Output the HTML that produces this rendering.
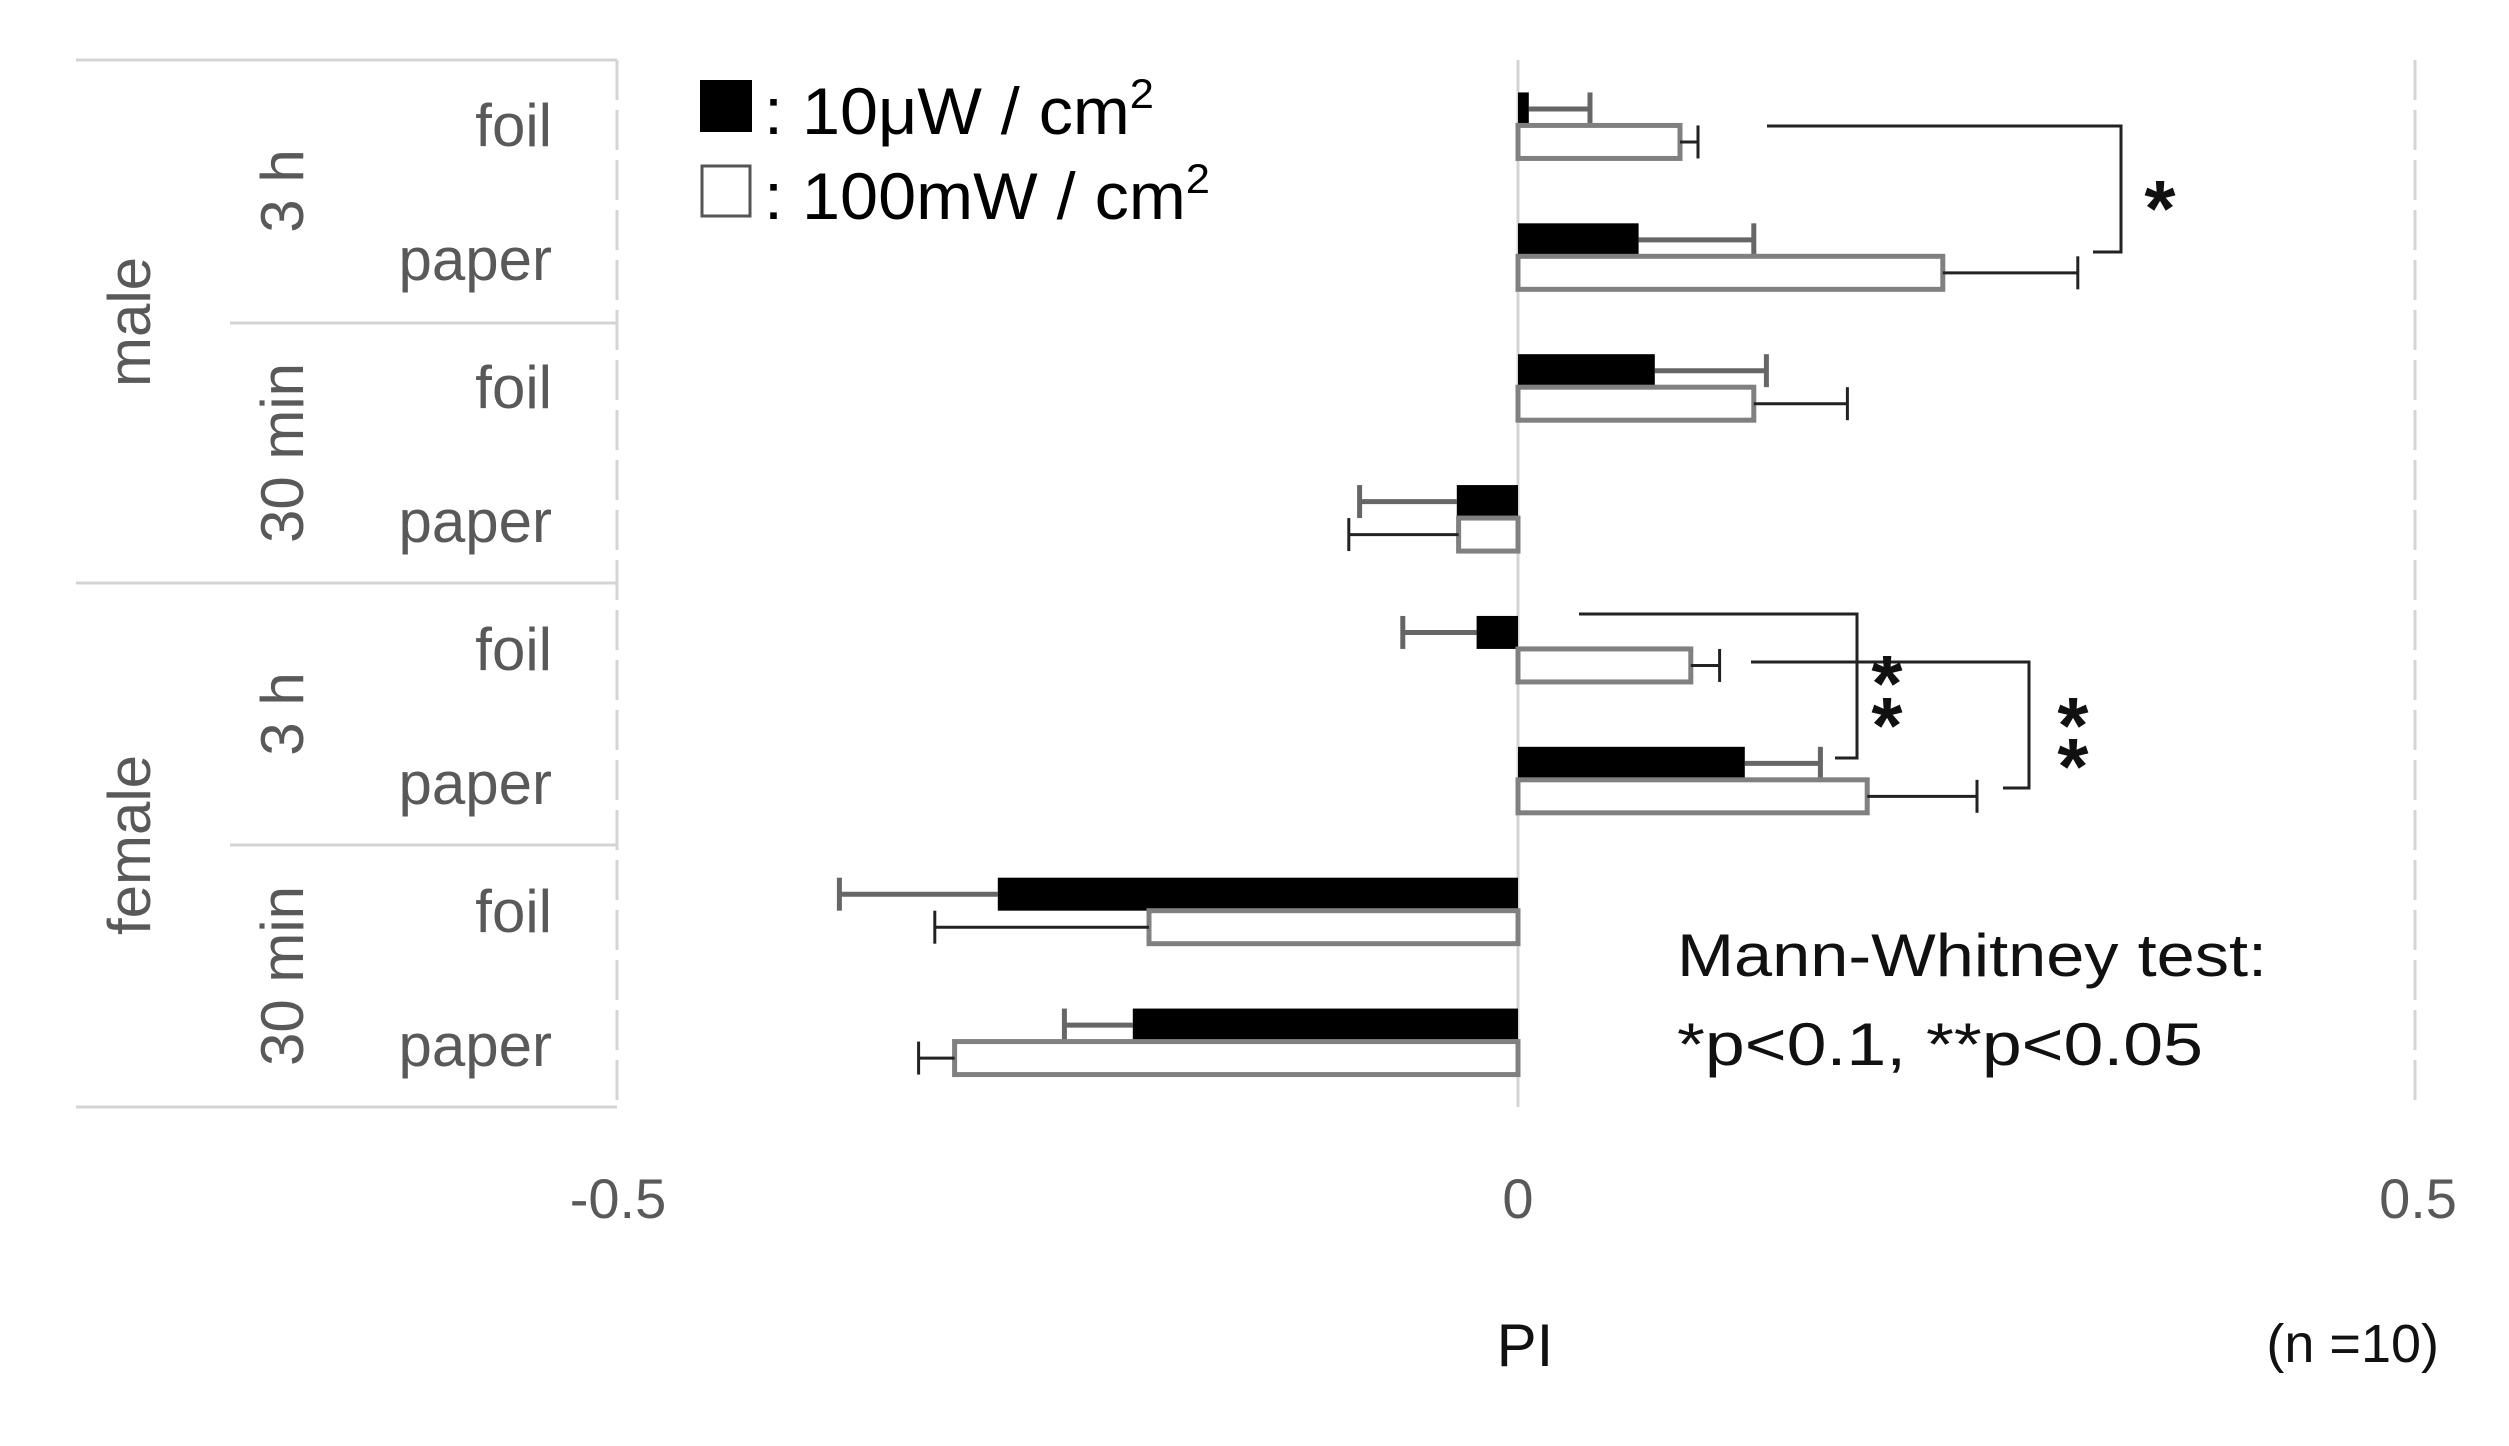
<!DOCTYPE html>
<html><head><meta charset="utf-8"><style>
html,body{margin:0;padding:0;background:#fff}
svg{display:block}
text{font-family:"Liberation Sans",sans-serif}
</style></head><body>
<svg id="chart" width="2509" height="1446" viewBox="0 0 2509 1446" xmlns="http://www.w3.org/2000/svg">
<g id="table" stroke="#d4d4d4" stroke-width="3" fill="none">
<line x1="76" y1="60" x2="617" y2="60"/>
<line x1="230" y1="323" x2="617" y2="323"/>
<line x1="76" y1="583" x2="617" y2="583"/>
<line x1="230" y1="845" x2="617" y2="845"/>
<line x1="76" y1="1107" x2="617" y2="1107"/>
<line x1="617" y1="60" x2="617" y2="1107" stroke-dasharray="40 10"/>
<line x1="2415" y1="60" x2="2415" y2="1107" stroke-dasharray="40 10"/>
<line x1="1518" y1="60" x2="1518" y2="1107"/>
</g>
<g fill="#595959" font-size="60">
<text x="552" y="146" text-anchor="end">foil</text>
<text x="552" y="280" text-anchor="end">paper</text>
<text x="552" y="408" text-anchor="end">foil</text>
<text x="552" y="542" text-anchor="end">paper</text>
<text x="552" y="670" text-anchor="end">foil</text>
<text x="552" y="804" text-anchor="end">paper</text>
<text x="552" y="932" text-anchor="end">foil</text>
<text x="552" y="1066" text-anchor="end">paper</text>
<text transform="translate(303,191) rotate(-90)" text-anchor="middle">3 h</text>
<text transform="translate(303,453) rotate(-90)" text-anchor="middle">30 min</text>
<text transform="translate(303,714) rotate(-90)" text-anchor="middle">3 h</text>
<text transform="translate(303,976) rotate(-90)" text-anchor="middle">30 min</text>
<text transform="translate(150,322) rotate(-90)" text-anchor="middle">male</text>
<text transform="translate(150,845) rotate(-90)" text-anchor="middle">female</text>
</g>
<g id="bars"></g>
<g id="ticks" fill="#595959" font-size="56" text-anchor="middle"></g>
<g font-size="66" fill="#000">
<rect x="700" y="80" width="52" height="52" fill="#000"/>
<text x="764" y="134" textLength="390" lengthAdjust="spacingAndGlyphs">: 10μW / cm<tspan font-size="42" dy="-26">2</tspan></text>
<rect x="702" y="166" width="48" height="50" fill="#fff" stroke="#555" stroke-width="3"/>
<text x="764" y="219" textLength="446" lengthAdjust="spacingAndGlyphs">: 100mW / cm<tspan font-size="42" dy="-26">2</tspan></text>
</g>
<g id="sig" stroke="#222" stroke-width="3" fill="none">
<polyline points="1767,126 2121,126 2121,252 2093,252"/>
<polyline points="1579,614 1857,614 1857,758 1835,758"/>
<polyline points="1751,662 2029,662 2029,788 2003,788"/>
</g>
<g fill="#111" font-size="80" font-weight="bold" text-anchor="middle">
<text x="2160" y="236">*</text>
<text x="1887" y="711">*</text>
<text x="1887" y="753">*</text>
<text x="2073" y="753">*</text>
<text x="2073" y="794">*</text>
</g>
<g fill="#111" font-size="60">
<text x="1677" y="976" textLength="590" lengthAdjust="spacingAndGlyphs">Mann-Whitney test:</text>
<text x="1677" y="1065" textLength="526" lengthAdjust="spacingAndGlyphs">*p&lt;0.1, **p&lt;0.05</text>
<text x="1525" y="1366" text-anchor="middle">PI</text>
<text x="2439" y="1362" text-anchor="end" font-size="54">(n =10)</text>
</g>
</svg>
<script>
const categories = ["male 3h foil","male 3h paper","male 30min foil","male 30min paper","female 3h foil","female 3h paper","female 30min foil","female 30min paper"];
const low = [0.006,0.067,0.076,-0.034,-0.023,0.126,-0.289,-0.214];
const lowErr = [0.034,0.064,0.062,-0.054,-0.041,0.042,-0.088,-0.038];
const high = [0.090,0.236,0.131,-0.033,0.096,0.194,-0.205,-0.313];
const highErr = [0.010,0.075,0.052,-0.061,0.016,0.061,-0.119,-0.020];
const tickValues = [-0.5,0,0.5];
const tickLabels = ["-0.5","0","0.5"];

const NS="http://www.w3.org/2000/svg";
const X0=1518, HALF=900, TOP=60, ROWH=(1107-60)/8, BH=33;
function xs(v){return X0+v/0.5*HALF;}
function yc(i){return TOP+ROWH*(i+0.5);}
const g=document.getElementById('bars');
function mk(tag,attrs){const e=document.createElementNS(NS,tag);for(const k in attrs)e.setAttribute(k,attrs[k]);return e;}
function errbar(v,e,y,color,w,name){
  const x1=xs(v),x2=xs(v+e);
  const l=mk('line',{x1:x1,y1:y,x2:x2,y2:y,stroke:color,'stroke-width':w});
  
  
  g.appendChild(l);
  const c=mk('line',{x1:x2,y1:y-BH/2,x2:x2,y2:y+BH/2,stroke:color,'stroke-width':w});
  
  
  g.appendChild(c);
}
categories.forEach((c,i)=>{
  const cy=yc(i);
  const key=c.replace(/ /g,'-');
  let a=xs(Math.min(0,low[i])), b=xs(Math.max(0,low[i]));
  errbar(low[i],lowErr[i],cy-BH/2,'#666',5,'bar-low-'+key);
  const r1=mk('rect',{x:a,y:cy-BH,width:Math.max(b-a,1),height:BH,fill:'#000'});
  
  
  g.appendChild(r1);
  a=xs(Math.min(0,high[i])); b=xs(Math.max(0,high[i]));
  errbar(high[i],highErr[i],cy+BH/2,'#222',3,'bar-high-'+key);
  const r2=mk('rect',{x:a,y:cy,width:Math.max(b-a,1),height:BH,fill:'#fff',stroke:'#808080','stroke-width':5});
  
  
  g.insertBefore(r2,g.lastChild.previousSibling);
});
const t=document.getElementById('ticks');
tickValues.forEach((v,i)=>{
  const e=mk('text',{x:xs(v),y:1218});
  e.textContent=tickLabels[i];
  
  
  t.appendChild(e);
});
</script>
</body></html>
